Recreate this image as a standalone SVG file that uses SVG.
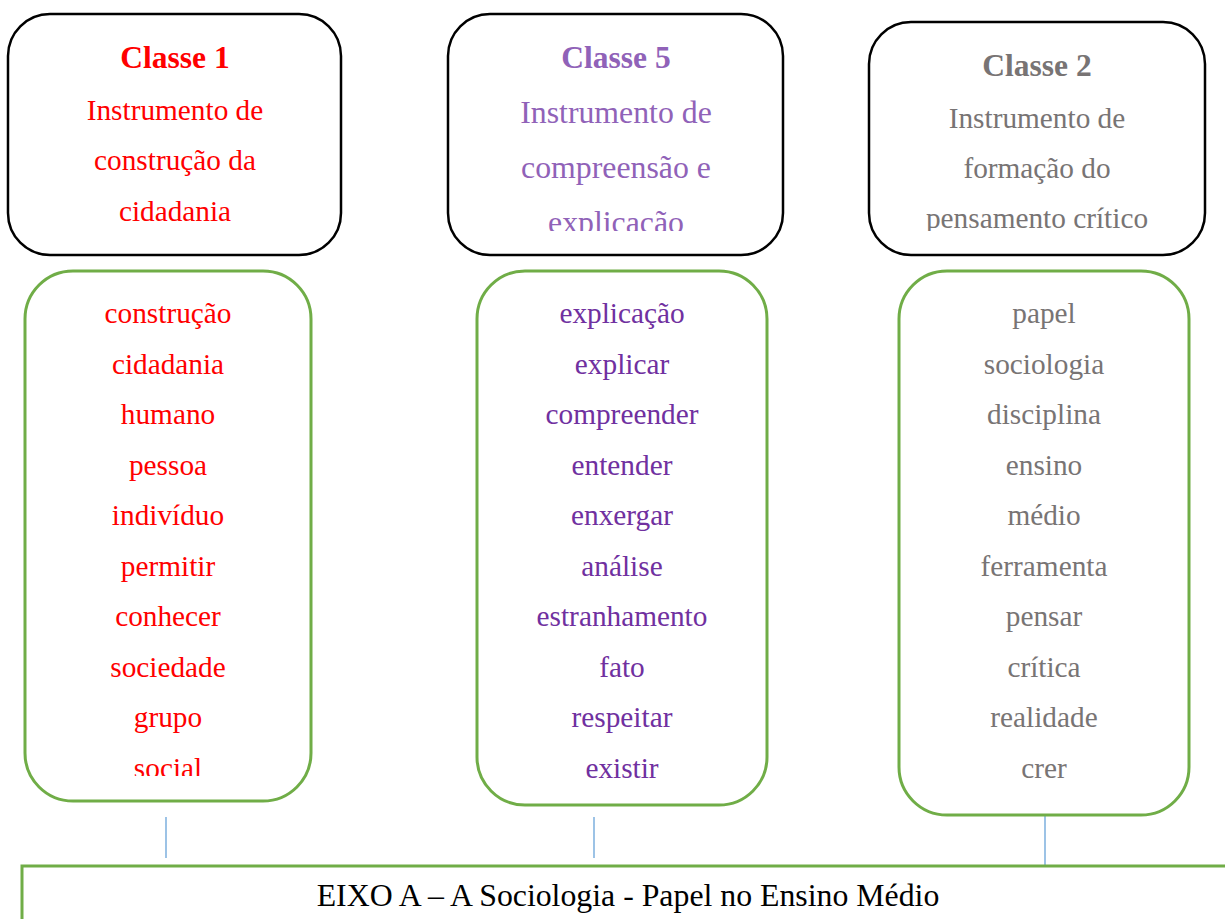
<svg xmlns="http://www.w3.org/2000/svg" width="1225" height="919" viewBox="0 0 1225 919">
  <style>
    text { font-family: "Liberation Serif", "Times New Roman", serif; text-anchor: middle; }
    .head { fill: #ffffff; stroke: #000000; stroke-width: 2.5; }
    .list { fill: #ffffff; stroke: #70ad47; stroke-width: 3; }
    .title { font-weight: bold; font-size: 31.5px; }
    .sub { font-size: 29.3px; }
    .sub5 { font-size: 31.8px; }
    .word { font-size: 29.3px; }
    .red { fill: #ff0000; }
    .lilac { fill: #9062b8; }
    .violet { fill: #7030a0; }
    .grey { fill: #787474; }
    .link { stroke: #5b9bd5; stroke-width: 1.2; fill: none; }
  </style>
  <defs>
    <clipPath id="clipHead"><rect x="0" y="0" width="1225" height="231"/></clipPath>
    <clipPath id="clipList1"><rect x="0" y="270" width="400" height="506"/></clipPath>
  </defs>
  <rect width="1225" height="919" fill="#ffffff"/>

  <!-- connectors -->
  <g id="connectors">
    <line class="link" x1="166" y1="817" x2="166" y2="858"/>
    <line class="link" x1="594" y1="817" x2="594" y2="858"/>
    <line class="link" x1="1045" y1="815" x2="1045" y2="866"/>
  </g>

  <!-- class headers -->
  <g id="classe1">
    <rect class="head" x="8" y="14" width="333" height="241" rx="42"/>
    <g clip-path="url(#clipHead)">
      <text class="title red" x="175" y="68">Classe 1</text>
      <text class="sub red" x="175" y="120">Instrumento de</text>
      <text class="sub red" x="175" y="170">construção da</text>
      <text class="sub red" x="175" y="221">cidadania</text>
    </g>
  </g>

  <g id="classe5">
    <rect class="head" x="448" y="14" width="335" height="241" rx="42"/>
    <g clip-path="url(#clipHead)">
      <text class="title lilac" x="616" y="68">Classe 5</text>
      <text class="sub5 lilac" x="616" y="123">Instrumento de</text>
      <text class="sub5 lilac" x="616" y="178">compreensão e</text>
      <text class="sub5 lilac" x="616" y="233">explicação</text>
    </g>
  </g>

  <g id="classe2">
    <rect class="head" x="869" y="22" width="336" height="233" rx="42"/>
    <g clip-path="url(#clipHead)">
      <text class="title grey" x="1037" y="76">Classe 2</text>
      <text class="sub grey" x="1037" y="128">Instrumento de</text>
      <text class="sub grey" x="1037" y="178">formação do</text>
      <text class="sub grey" x="1037" y="228">pensamento crítico</text>
    </g>
  </g>

  <!-- word lists -->
  <g id="lista1">
    <rect class="list" x="25" y="271" width="286" height="530" rx="48"/>
    <g class="red" clip-path="url(#clipList1)">
      <text class="word" x="168" y="323">construção</text>
      <text class="word" x="168" y="373.5">cidadania</text>
      <text class="word" x="168" y="424">humano</text>
      <text class="word" x="168" y="474.5">pessoa</text>
      <text class="word" x="168" y="525">indivíduo</text>
      <text class="word" x="168" y="575.5">permitir</text>
      <text class="word" x="168" y="626">conhecer</text>
      <text class="word" x="168" y="676.5">sociedade</text>
      <text class="word" x="168" y="727">grupo</text>
      <text class="word" x="168" y="777.5">social</text>
    </g>
  </g>

  <g id="lista5">
    <rect class="list" x="477" y="271" width="290" height="534" rx="48"/>
    <g class="violet">
      <text class="word" x="622" y="323">explicação</text>
      <text class="word" x="622" y="373.5">explicar</text>
      <text class="word" x="622" y="424">compreender</text>
      <text class="word" x="622" y="474.5">entender</text>
      <text class="word" x="622" y="525">enxergar</text>
      <text class="word" x="622" y="575.5">análise</text>
      <text class="word" x="622" y="626">estranhamento</text>
      <text class="word" x="622" y="676.5">fato</text>
      <text class="word" x="622" y="727">respeitar</text>
      <text class="word" x="622" y="777.5">existir</text>
    </g>
  </g>

  <g id="lista2">
    <rect class="list" x="899" y="271" width="290" height="544" rx="48"/>
    <g class="grey">
      <text class="word" x="1044" y="323">papel</text>
      <text class="word" x="1044" y="373.5">sociologia</text>
      <text class="word" x="1044" y="424">disciplina</text>
      <text class="word" x="1044" y="474.5">ensino</text>
      <text class="word" x="1044" y="525">médio</text>
      <text class="word" x="1044" y="575.5">ferramenta</text>
      <text class="word" x="1044" y="626">pensar</text>
      <text class="word" x="1044" y="676.5">crítica</text>
      <text class="word" x="1044" y="727">realidade</text>
      <text class="word" x="1044" y="777.5">crer</text>
    </g>
  </g>

  <!-- axis box -->
  <g id="eixo">
    <rect class="list" x="22" y="866" width="1230" height="80"/>
    <text x="628" y="906" style="font-size:31.8px; fill:#000000;">EIXO A – A Sociologia - Papel no Ensino Médio</text>
  </g>
</svg>
